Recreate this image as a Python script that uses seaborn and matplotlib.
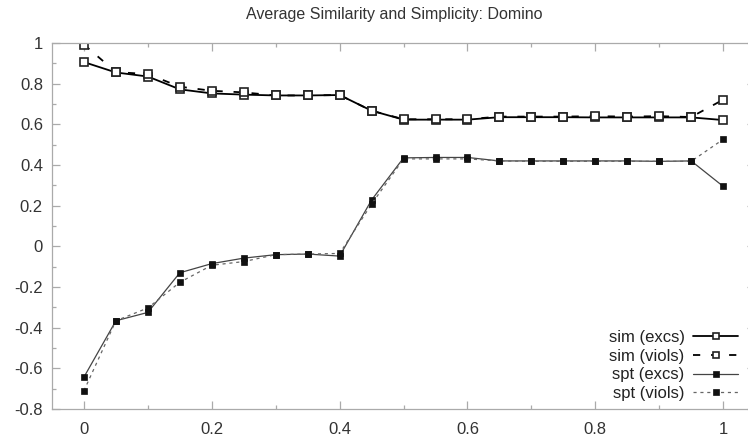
import numpy as np
import pandas as pd
import matplotlib
matplotlib.use("Agg")
import matplotlib.pyplot as plt
from matplotlib.ticker import MultipleLocator
import seaborn as sns

# Rule-strength parameter on the x axis
x_vals = [0.00, 0.05, 0.10, 0.15, 0.20, 0.25, 0.30, 0.35, 0.40, 0.45, 0.50,
          0.55, 0.60, 0.65, 0.70, 0.75, 0.80, 0.85, 0.90, 0.95, 1.00]

# Average similarity
sim_excs = [0.906, 0.855, 0.835, 0.772, 0.752, 0.746, 0.742, 0.742, 0.744, 0.667, 0.623,
            0.623, 0.623, 0.635, 0.635, 0.635, 0.634, 0.634, 0.634, 0.634, 0.621]
sim_viols = [0.992, 0.857, 0.847, 0.785, 0.765, 0.757, 0.742, 0.742, 0.744, 0.667, 0.625,
             0.625, 0.625, 0.638, 0.638, 0.638, 0.640, 0.638, 0.640, 0.636, 0.721]

# Average simplicity
spt_excs = [-0.643, -0.366, -0.325, -0.130, -0.085, -0.058, -0.041, -0.038, -0.048, 0.228, 0.435,
            0.437, 0.437, 0.420, 0.420, 0.420, 0.420, 0.420, 0.418, 0.420, 0.295]
spt_viols = [-0.710, -0.366, -0.303, -0.177, -0.093, -0.075, -0.041, -0.038, -0.035, 0.208, 0.430,
             0.430, 0.430, 0.420, 0.418, 0.418, 0.418, 0.418, 0.418, 0.418, 0.526]

series_labels = ["sim (excs)", "sim (viols)", "spt (excs)", "spt (viols)"]
title_text = "Average Similarity and Simplicity: Domino"

sns.set_theme(style="white")
plt.rcParams["font.family"] = ["Liberation Sans", "DejaVu Sans"]

fig = plt.figure(figsize=(7.48, 4.44), dpi=100)
ax = fig.add_axes([0.0695, 0.0788, 0.94, 0.8244])

x = np.array(x_vals)
styles = [
    (sim_excs, dict(color="black", lw=1.3, ls="-", marker="s", ms=5.2,
                    markerfacecolor="white", mec="#222222", mew=1.2)),
    (sim_viols, dict(color="black", lw=1.3, ls=(0, (4, 6)), marker="s", ms=5.2,
                     markerfacecolor="white", mec="#222222", mew=1.2)),
    (spt_excs, dict(color="#444444", lw=0.9, ls="-", marker="s", ms=5.0,
                    markerfacecolor="#111111", mec="#111111", mew=0.5)),
    (spt_viols, dict(color="#666666", lw=0.9, ls=(0, (2.5, 3)), marker="s", ms=5.0,
                     markerfacecolor="#111111", mec="#111111", mew=0.5)),
]
for (vals, kw), lab in zip(styles, series_labels):
    sns.lineplot(x=x, y=np.array(vals), ax=ax, label=lab, **kw)

ax.set_xlim(-0.05, 1.05)
ax.set_ylim(-0.8, 1.0)
ax.xaxis.set_minor_locator(MultipleLocator(0.1))
ax.yaxis.set_minor_locator(MultipleLocator(0.1))
ax.set_xticks([0, 0.2, 0.4, 0.6, 0.8, 1.0])
ax.set_xticklabels(["0", "0.2", "0.4", "0.6", "0.8", "1"])
ax.set_yticks([-0.8, -0.6, -0.4, -0.2, 0, 0.2, 0.4, 0.6, 0.8, 1.0])
ax.set_yticklabels(["-0.8", "-0.6", "-0.4", "-0.2", "0", "0.2", "0.4", "0.6", "0.8", "1"])

spine_col = "#aaaaaa"
for s in ax.spines.values():
    s.set_color(spine_col)
    s.set_linewidth(0.9)
ax.tick_params(which="both", direction="in", top=True, right=True,
               bottom=True, left=True, color=spine_col, width=0.9,
               labelsize=12, labelcolor="#333333")
ax.tick_params(which="major", length=6)
ax.tick_params(which="minor", length=3)
ax.tick_params(axis="y", which="major", pad=6.5)
ax.tick_params(axis="x", which="major", pad=9)
ax.set_xlabel("")
ax.set_ylabel("")

handles, labels = ax.get_legend_handles_labels()
ax.legend(handles, labels, loc="lower right", bbox_to_anchor=(738 / 748, 1 - 401 / 444),
          bbox_transform=fig.transFigure, frameon=False, markerfirst=False,
          fontsize=12, handlelength=2.7, handletextpad=0.5, labelspacing=0.22,
          borderpad=0, borderaxespad=0, labelcolor="#222222", markerscale=0.85)

fig.text(394 / 748, 1 - 15 / 444, title_text, ha="center", va="center",
         fontsize=11.5, color="#333333")

fig.savefig("out.png", dpi=100)
